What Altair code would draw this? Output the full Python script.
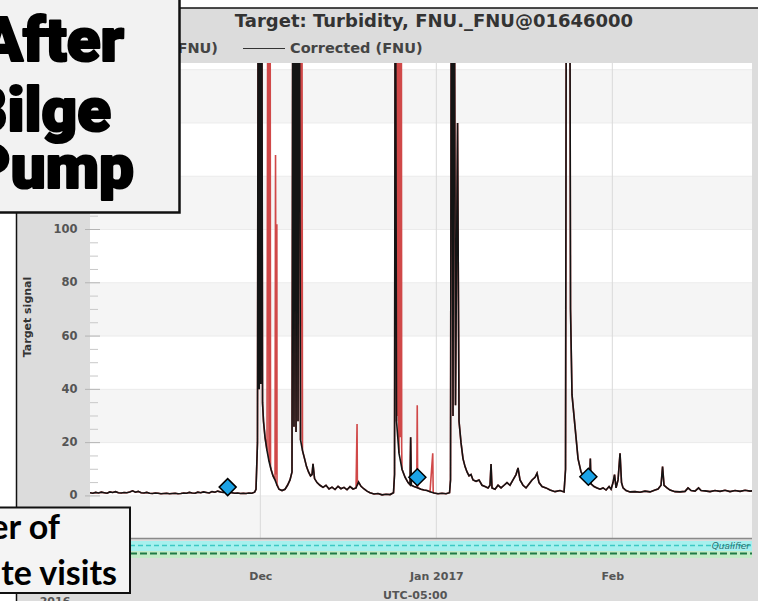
import altair as alt
import pandas as pd

# ---------------------------------------------------------------------------
# Turbidity record, site 01646000 -- sample times are days after 2016-11-01 UTC
# ---------------------------------------------------------------------------
COR_DAY = [
    0.0, 0.5, 1.0, 1.5, 2.0, 2.5, 3.0, 3.5, 4.0, 4.5,
    5.0, 5.5, 6.0, 6.5, 7.0, 7.5, 8.0, 8.5, 9.0, 9.5,
    10.0, 10.5, 11.0, 11.5, 12.0, 12.5, 13.0, 13.5, 14.0, 14.5,
    15.0, 15.5, 16.0, 16.5, 17.0, 17.5, 18.0, 18.5, 19.0, 19.5,
    20.0, 20.5, 21.0, 21.5, 22.0, 22.5, 23.0, 23.5, 24.0, 24.5,
    25.0, 25.5, 26.0, 26.5, 27.0, 27.5, 28.0, 28.5, 29.0,
    # late-November storm
    29.24, 29.50, 29.65, 29.80, 29.95, 30.09, 30.23, 30.39, 30.56, 30.83,
    31.18, 31.53, 31.88, 32.24, 32.59, 32.94, 33.29, 33.82, 34.35, 34.79,
    35.23, 35.58, 35.76, 35.93, 36.11, 36.29, 36.46, 36.64, 36.82, 37.08,
    37.43, 37.79, 38.14, 38.49, 38.84, 39.11, 39.28, 39.55, 39.99, 40.51,
    41.04, 41.57, 42.10, 42.63, 43.16, 43.69, 44.21, 44.74, 45.27, 45.80,
    46.33, 46.86, 47.30, 47.74, 48.27, 48.79, 49.32, 50.03, 50.73, 51.44,
    52.14, 52.85, 53.46,
    # Christmas storm
    53.64, 53.78, 53.99, 54.43, 54.96, 55.49, 56.02, 56.37, 56.48, 56.60,
    57.07, 57.78, 58.30, 58.83, 59.36, 59.89, 60.60, 61.30, 62.00, 62.71,
    63.33,
    # early-January storm
    63.50, 63.68, 63.94, 64.12, 64.38, 64.74, 65.00, 65.35, 65.70, 66.06,
    66.41, 66.76, 67.11, 67.47, 68.00, 68.52, 69.05, 69.58, 70.11, 70.46,
    70.64, 70.81, 71.34, 71.87, 72.40, 72.93, 73.45, 73.98, 74.51, 75.04,
    75.39, 75.74, 76.27, 76.80, 77.33, 77.86, 78.39, 78.74, 79.09, 79.62,
    80.32, 81.03, 81.91, 82.79, 83.50,
    # late-January storm and February recession
    83.76, 83.94, 84.20, 84.47, 84.64, 84.90, 85.43, 85.96, 86.49, 87.02,
    87.55, 87.98, 88.13, 88.25, 88.78, 89.31, 89.84, 90.37, 90.90, 91.43,
    91.78, 92.13, 92.39, 92.66, 93.01, 93.36, 93.62, 93.89, 94.42, 95.12,
    96.00, 96.88, 97.76, 98.64, 99.53, 100.05, 100.58, 100.85, 101.11, 101.64,
    102.17, 103.05, 103.93, 104.81, 105.34, 105.87, 106.57, 107.19, 107.63, 108.33,
    109.21, 110.09, 110.97, 111.85, 112.73, 113.62, 114.50, 115.38, 116.26, 116.61,
]
COR_FNU = [
    1.2, 1.0, 1.3, 1.1, 1.4, 1.2, 1.0, 1.5, 1.3, 1.6,
    1.2, 1.1, 1.3, 1.2, 1.5, 1.9, 1.4, 1.7, 1.2, 1.1,
    1.3, 1.0, 0.9, 1.1, 1.0, 0.8, 0.9, 1.0, 0.8, 0.9,
    1.0, 0.8, 0.9, 1.1, 1.0, 1.3, 1.1, 1.0, 1.4, 1.2,
    1.5, 1.3, 1.1, 1.6, 1.4, 1.8, 1.5, 1.3, 1.6, 1.4,
    1.2, 1.0, 1.1, 0.9, 1.0, 0.9, 1.1, 1.0, 1.4,
    2.5, 20, 260, 40, 260, 42, 260, 35, 28, 22,
    17, 13, 10, 7.5, 6, 4, 2.5, 2, 2.5, 4,
    6, 9, 260, 26, 260, 24, 260, 28, 260, 21,
    17, 14, 11, 9, 7.5, 8, 12, 6.5, 5, 4,
    3.2, 4, 2.6, 3.3, 2.4, 3.6, 2.7, 3.2, 2.3, 3.5,
    2.6, 3.0, 5.2, 3.6, 2.6, 1.8, 1.2, 0.7, 0.9, 0.4,
    0.6, 0.5, 1.2,
    8, 260, 28, 16, 10, 7, 5, 4.2, 22, 4,
    3.5, 3, 2.5, 2.2, 2, 1.6, 1.1, 0.8, 1.0, 0.8,
    1.2,
    6, 260, 30, 260, 34, 140, 28, 20, 14, 11,
    9, 7.5, 8, 6, 5.5, 6, 4, 3.5, 3, 4,
    12, 3, 2.5, 4, 3, 4, 5, 4, 6, 8,
    10.5, 6, 4, 3, 4.5, 6, 7, 8.5, 5, 3.5,
    3, 2.2, 1.6, 2, 1.5,
    10, 260, 200, 260, 70, 38, 26, 14, 9, 7,
    6, 5, 14, 4.5, 3.5, 3, 2.5, 3, 2.2, 3.5,
    2.5, 5, 8, 3, 6, 16, 5, 3, 2, 1.5,
    1.6, 1.4, 1.8, 1.5, 2.2, 2.6, 4, 11, 4, 3,
    2.2, 1.6, 1.5, 1.7, 3, 2, 1.8, 3, 2, 1.9,
    1.6, 2, 1.7, 2.1, 1.6, 2, 1.7, 2.1, 1.8, 1.9,
]
# Excursions present only in the raw record (removed by the correction)
RAW_EXTRA_DAY = [31.35, 31.62, 31.71, 31.80, 32.68, 32.80, 32.91, 33.03, 37.30,
                 47.04, 47.10, 54.08, 54.18, 54.27, 54.36, 54.55, 54.70, 54.82,
                 54.90, 57.55, 57.64, 57.72, 60.37, 60.45]
RAW_EXTRA_FNU = [260, 14, 260, 11, 128, 8, 102, 4, 260,
                 27, 4, 260, 30, 260, 26, 260, 22, 260,
                 18, 3.2, 34, 3, 16, 1.3]
# Field visits
VISIT_DAY = [24.25, 57.66, 87.78]
VISIT_FNU = [3.3, 7.0, 7.2]

Y_GRID = [0, 20, 40, 60, 80, 100, 120, 140, 160]
Y_LABELS = [0, 20, 40, 60, 80, 100]
BAND_LO = [-20, 20, 60, 100, 140]
BAND_HI = [0, 40, 80, 120, 160]
MONTHS = ["2016-12-01T00:00:00Z", "2017-01-01T00:00:00Z", "2017-02-01T00:00:00Z"]

assert len(COR_DAY) == len(COR_FNU)
assert len(RAW_EXTRA_DAY) == len(RAW_EXTRA_FNU)

# ---------------------------------------------------------------------------
T0 = pd.Timestamp("2016-11-01")


def stamp(days):
    return (T0 + pd.to_timedelta(days, unit="D")).strftime("%Y-%m-%dT%H:%M:%SZ")


corrected = pd.DataFrame({"time": [stamp(d) for d in COR_DAY], "fnu": COR_FNU})
raw_map = dict(zip(COR_DAY, COR_FNU))
raw_map.update(zip(RAW_EXTRA_DAY, RAW_EXTRA_FNU))
raw_days = sorted(raw_map)
raw = pd.DataFrame({"time": [stamp(d) for d in raw_days], "fnu": [raw_map[d] for d in raw_days]})
visits = pd.DataFrame({"time": [stamp(d) for d in VISIT_DAY], "fnu": VISIT_FNU})
bands = pd.DataFrame({"fnu": BAND_LO, "hi": BAND_HI})
grid_y = pd.DataFrame({"fnu": Y_GRID})
minor_y = pd.DataFrame({"fnu": [v for v in range(5, 161, 5) if v % 20]})
months = pd.DataFrame({"time": MONTHS})
ONE = pd.DataFrame({"k": [0]})

W, H = 662, 475        # plot area
LEFT, TOP = 90, 63     # plot origin on the page
SANS = "DejaVu Sans"

XSCALE = alt.Scale(type="utc",
                   domain=[alt.DateTime(year=2016, month=11, date=1, utc=True),
                           alt.DateTime(year=2017, month=2, date=25, hours=14, minutes=30, utc=True)])
YSCALE = alt.Scale(domain=[-15.8, 162.5], nice=False, zero=False)

X_AXIS = alt.Axis(
    values=[alt.DateTime(year=2016, month=12, date=1, utc=True),
            alt.DateTime(year=2017, month=1, date=1, utc=True),
            alt.DateTime(year=2017, month=2, date=1, utc=True)],
    labelExpr="utcFormat(datum.value, '%m') == '01' ? utcFormat(datum.value, '%b %Y') : utcFormat(datum.value, '%b')",
    title=None, ticks=False, domain=False, grid=False, labelPadding=32,
    labelFont=SANS, labelFontWeight="bold", labelFontSize=11, labelColor="#555",
)
Y_AXIS = alt.Axis(
    values=Y_LABELS, title=None, ticks=False, domain=False, grid=False, labelPadding=13,
    labelFont=SANS, labelFontWeight="bold", labelFontSize=11.5, labelColor="#555",
)
X = alt.X("time:T", scale=XSCALE, axis=X_AXIS)
Y = alt.Y("fnu:Q", scale=YSCALE, axis=Y_AXIS)


def px(x):
    return alt.value(x - LEFT)


def py(y):
    return alt.value(y - TOP)


def box(x0, y0, x1, y1, fill, stroke=None, sw=0.0):
    kw = {"fill": fill}
    if stroke:
        kw.update(stroke=stroke, strokeWidth=sw)
    return alt.Chart(ONE).mark_rect(**kw).encode(x=px(x0), x2=px(x1), y=py(y0), y2=py(y1))


def hline(x0, x1, y, color, sw=1.0, dash=None):
    kw = {"color": color, "strokeWidth": sw}
    if dash:
        kw["strokeDash"] = dash
    return alt.Chart(ONE).mark_rule(**kw).encode(x=px(x0), x2=px(x1), y=py(y))


def vline(x, y0, y1, color, sw=1.0):
    return alt.Chart(ONE).mark_rule(color=color, strokeWidth=sw).encode(x=px(x), y=py(y0), y2=py(y1))


def label(text, x, y, size, color="#444", align="center", baseline="alphabetic",
          font=SANS, weight="bold", angle=0, style="normal", stroke=None, sw=0.0):
    kw = dict(text=text, fontSize=size, font=font, fontWeight=weight, color=color,
              align=align, baseline=baseline, angle=angle, fontStyle=style)
    if stroke:
        kw.update(stroke=stroke, strokeWidth=sw, strokeJoin="round")
    return alt.Chart(ONE).mark_text(**kw).encode(x=px(x), y=py(y))


# page frame: white margin, window border
frame = [
    box(-5, -5, 16.5, 606, "white"),
    box(-5, -5, 763, 8, "white"),
    vline(16.5, 212, 601, "#111", 1.5),
    hline(180, 758, 8, "#111", 1.5),
]

# alternating horizontal bands and grid
band_layer = alt.Chart(bands).mark_rect(color="#f5f5f5", clip=True).encode(
    y=Y, y2="hi:Q", x=alt.value(0), x2=alt.value(W))
hgrid = alt.Chart(grid_y).mark_rule(color="#ebebeb", strokeWidth=1).encode(
    y=Y, x=alt.value(0), x2=alt.value(W))
vgrid = alt.Chart(months).mark_rule(color="#dadada", strokeWidth=1).encode(
    x=X, y=alt.value(0), y2=alt.value(H + 22))
minor = alt.Chart(minor_y).mark_rule(color="#c8c8c8", strokeWidth=1).encode(
    y=Y, x=alt.value(0), x2=alt.value(8))
major = alt.Chart(grid_y).mark_rule(color="#b4b4b4", strokeWidth=1).encode(
    y=Y, x=alt.value(-5), x2=alt.value(10))

# qualifier strip under the plot
qualifier = [
    hline(LEFT, LEFT + W, 538.5, "#8a8a8a", 1.5),
    box(LEFT, 541, LEFT + W, 551, "#a6f0ee"),
    hline(LEFT, LEFT + W, 545.5, "#3cc8c4", 1.5, [5, 3]),
    box(LEFT, 551, LEFT + W, 558, "#c4ebc8"),
    hline(LEFT, LEFT + W, 553.5, "#1f7a45", 2, [7, 3]),
    label("Qualifier", 750, 549, 9, color="#2b6f6f", align="right", weight="normal", style="italic"),
]

raw_line = alt.Chart(raw).mark_line(color="#d04848", strokeWidth=1.6, clip=True).encode(x=X, y=Y)
cor_line = alt.Chart(corrected).mark_line(color="#141414", strokeWidth=1.6, clip=True).encode(x=X, y=Y)
visit_pts = alt.Chart(visits).mark_point(
    shape="diamond", filled=True, size=290, fill="#1ba3e6", stroke="#000", strokeWidth=1.5, opacity=1,
).encode(x=X, y=Y)

# window header, axis titles
header = [
    label("Target: Turbidity, FNU._FNU@01646000", 434, 27, 18, color="#333"),
    label("Raw Turbidity (FNU)", 218, 53, 14.5, align="right"),
    hline(243, 285, 48.5, "#333", 1.2),
    label("Corrected (FNU)", 290, 53, 14.5, align="left"),
    label("Target signal", 28, 317, 11, color="#333", baseline="middle", angle=270),
    label("UTC-05:00", 383, 599, 11, color="#555", align="left"),
    label("2016", 55, 605, 11, color="#555"),
]

# call-out boxes
BIG = dict(color="#000", align="right", font="Roboto", weight=900, stroke="#000", sw=2.2)
callouts = [
    box(-5, -5, 179.5, 212.5, "#f2f2f2", "#111", 2.5),
    label("After", 124, 61, 62, **BIG),
    label("Bilge", 111, 131, 62, **BIG),
    label("Pump", 134, 188, 62, **BIG),
    box(-5, 507.5, 130, 593, "#f4f4f4", "#111", 2),
    label("er of", 60, 539, 34, color="#000", align="right", font="Lato", weight="bold"),
    label("te visits", 117, 585, 34, color="#000", align="right", font="Lato", weight="bold"),
]

chart = alt.layer(
    *frame, band_layer, hgrid, vgrid, minor, major, *qualifier,
    raw_line, cor_line, visit_pts, *header, *callouts,
).properties(
    width=W, height=H,
    padding={"left": LEFT, "top": TOP, "right": 758 - LEFT - W, "bottom": 601 - TOP - H},
    autosize=alt.AutoSizeParams(type="none"),
    background="#dcdcdc",
).configure_view(fill="white", stroke=None)

chart.save("out.html", embed_options={"renderer": "svg", "actions": False})
